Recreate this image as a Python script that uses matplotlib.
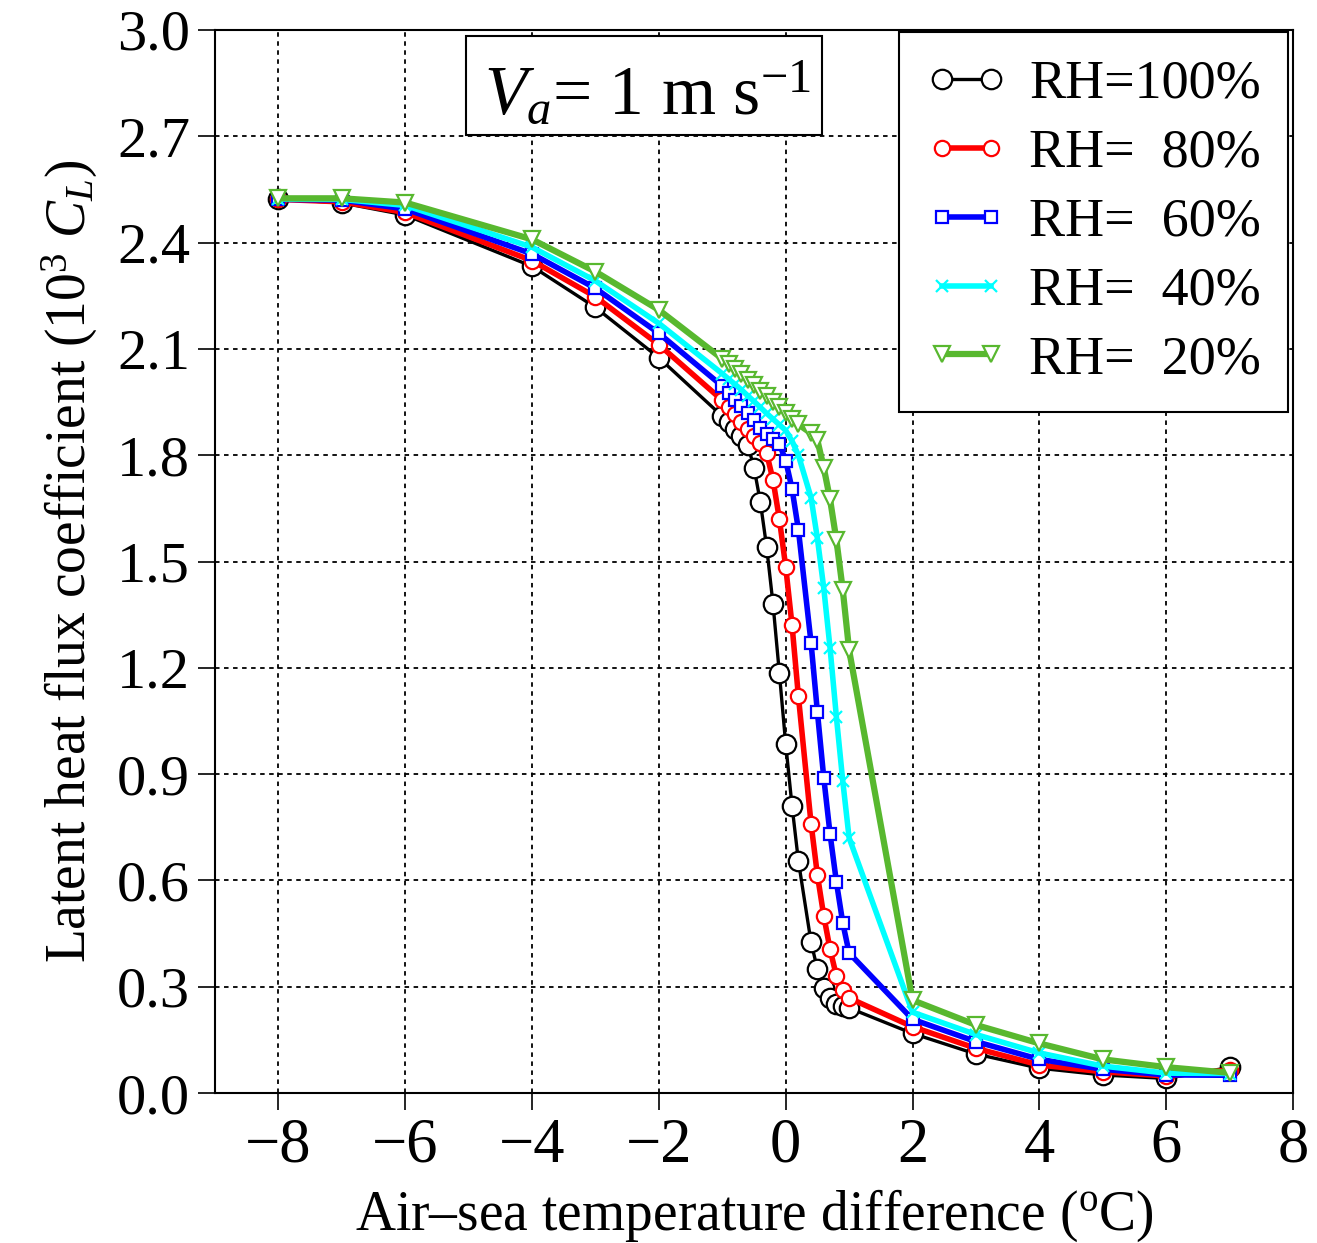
import matplotlib
matplotlib.use("Agg")
import matplotlib.pyplot as plt
from matplotlib.patches import Rectangle

# Air-sea temperature difference (degC); note the gaps at -5 and 0.3 in the source data
dT = [-8, -7, -6, -4, -3, -2,
      -1.0, -0.9, -0.8, -0.7, -0.6, -0.5, -0.4, -0.3, -0.2, -0.1, 0.0, 0.1, 0.2,
      0.4, 0.5, 0.6, 0.7, 0.8, 0.9, 1.0,
      2, 3, 4, 5, 6, 7]

# 10^3 C_L
rh100 = [2.523, 2.512, 2.478, 2.333, 2.217, 2.075,
         1.91, 1.895, 1.875, 1.855, 1.83, 1.765, 1.668, 1.54, 1.38, 1.185, 0.985, 0.81, 0.655,
         0.425, 0.35, 0.297, 0.268, 0.25, 0.245, 0.24,
         0.168, 0.11, 0.07, 0.051, 0.041, 0.072]
rh80 = [2.522, 2.515, 2.485, 2.349, 2.247, 2.112,
        1.955, 1.935, 1.915, 1.895, 1.875, 1.855, 1.835, 1.805, 1.73, 1.62, 1.485, 1.32, 1.12,
        0.76, 0.615, 0.5, 0.405, 0.33, 0.29, 0.268,
        0.187, 0.126, 0.079, 0.06, 0.048, 0.065]
rh60 = [2.522, 2.52, 2.495, 2.368, 2.271, 2.144,
        1.995, 1.975, 1.957, 1.938, 1.918, 1.898, 1.878, 1.86, 1.845, 1.832, 1.785, 1.705, 1.59,
        1.27, 1.075, 0.89, 0.73, 0.595, 0.48, 0.395,
        0.208, 0.145, 0.095, 0.067, 0.051, 0.05]
rh40 = [2.523, 2.522, 2.505, 2.387, 2.292, 2.172,
        2.03, 2.015, 2.0, 1.985, 1.968, 1.952, 1.935, 1.918, 1.902, 1.886, 1.87, 1.84, 1.80,
        1.68, 1.565, 1.425, 1.255, 1.06, 0.88, 0.72,
        0.228, 0.165, 0.113, 0.076, 0.056, 0.055]
rh20 = [2.525, 2.525, 2.513, 2.409, 2.318, 2.21,
        2.072, 2.058, 2.043, 2.028, 2.012, 1.997, 1.982, 1.966, 1.95, 1.935, 1.92, 1.903, 1.887,
        1.862, 1.842, 1.765, 1.675, 1.56, 1.42, 1.25,
        0.262, 0.192, 0.14, 0.095, 0.073, 0.057]

labels = ["RH=100%", "RH=  80%", "RH=  60%", "RH=  40%", "RH=  20%"]
xticks = [-8, -6, -4, -2, 0, 2, 4, 6, 8]
yticks = [0.0, 0.3, 0.6, 0.9, 1.2, 1.5, 1.8, 2.1, 2.4, 2.7, 3.0]

plt.rcParams["font.family"] = ["Liberation Serif", "DejaVu Serif"]
plt.rcParams["mathtext.fontset"] = "custom"
plt.rcParams["mathtext.rm"] = "Liberation Serif"
plt.rcParams["mathtext.it"] = "Liberation Serif:italic"

fig = plt.figure(figsize=(13.17, 12.43), dpi=100)
ax = fig.add_axes([215 / 1317, 150 / 1243, 1078 / 1317, 1063 / 1243])

# style per series: colour, marker, markersize, linewidth
styles = [
    ("black", "o", 14, 2.4),
    ("#ff0000", "o", 11, 4.0),
    ("#0000ff", "s", 9, 4.0),
    ("#00ffff", "x", 9, 4.0),
    ("#58b82f", "v", 12, 4.5),
]
series = [rh100, rh80, rh60, rh40, rh20]

for ys, lab, (c, m, ms, lw) in zip(series, labels, styles):
    ax.plot(dT, ys, color=c, lw=lw, marker=m, ms=ms, mfc="white" if m != "x" else c,
            mec=c, mew=1.6, label=lab, clip_on=False, zorder=3)

ax.set_xlim(-9, 8)
ax.set_ylim(0, 3.0)
ax.set_xticks(xticks)
ax.set_yticks(yticks)
ax.set_yticklabels([f"{v:.1f}" for v in yticks])
ax.tick_params(axis="x", labelsize=45, direction="out", length=12, width=1.2, pad=6)
ax.tick_params(axis="y", labelsize=42, direction="out", length=12, width=1.2, pad=6)
ax.grid(True, color="black", ls=(0, (2.5, 2.5)), lw=1.3)
for sp in ax.spines.values():
    sp.set_linewidth(1.5)

ax.set_xlabel(r"Air–sea temperature difference ($^{\mathrm{o}}$C)", fontsize=40, labelpad=8)
ax.set_ylabel(r"Latent heat flux coefficient (10$^{3}$ $C_L$)", fontsize=40, labelpad=12)

# wind speed box
ax.add_patch(Rectangle((0.2328, 0.9012), 0.3302, 0.0932, transform=ax.transAxes,
                       fill=True, fc="white", ec="black", lw=1.5, zorder=4))
ax.text(0.250, 0.921, r"$V_a$= 1 m s$^{-1}$", transform=ax.transAxes,
        fontsize=50, ha="left", va="baseline", zorder=5)

leg = ax.legend(loc="upper right", bbox_to_anchor=(0.9954, 0.998), borderaxespad=0,
                fontsize=39, numpoints=2, handlelength=1.5, handletextpad=0.4,
                labelspacing=0.34, borderpad=0.5, fancybox=False, framealpha=1,
                edgecolor="black")
leg.get_frame().set_linewidth(1.5)
leg.set_zorder(6)

fig.savefig("out.png", dpi=100)
